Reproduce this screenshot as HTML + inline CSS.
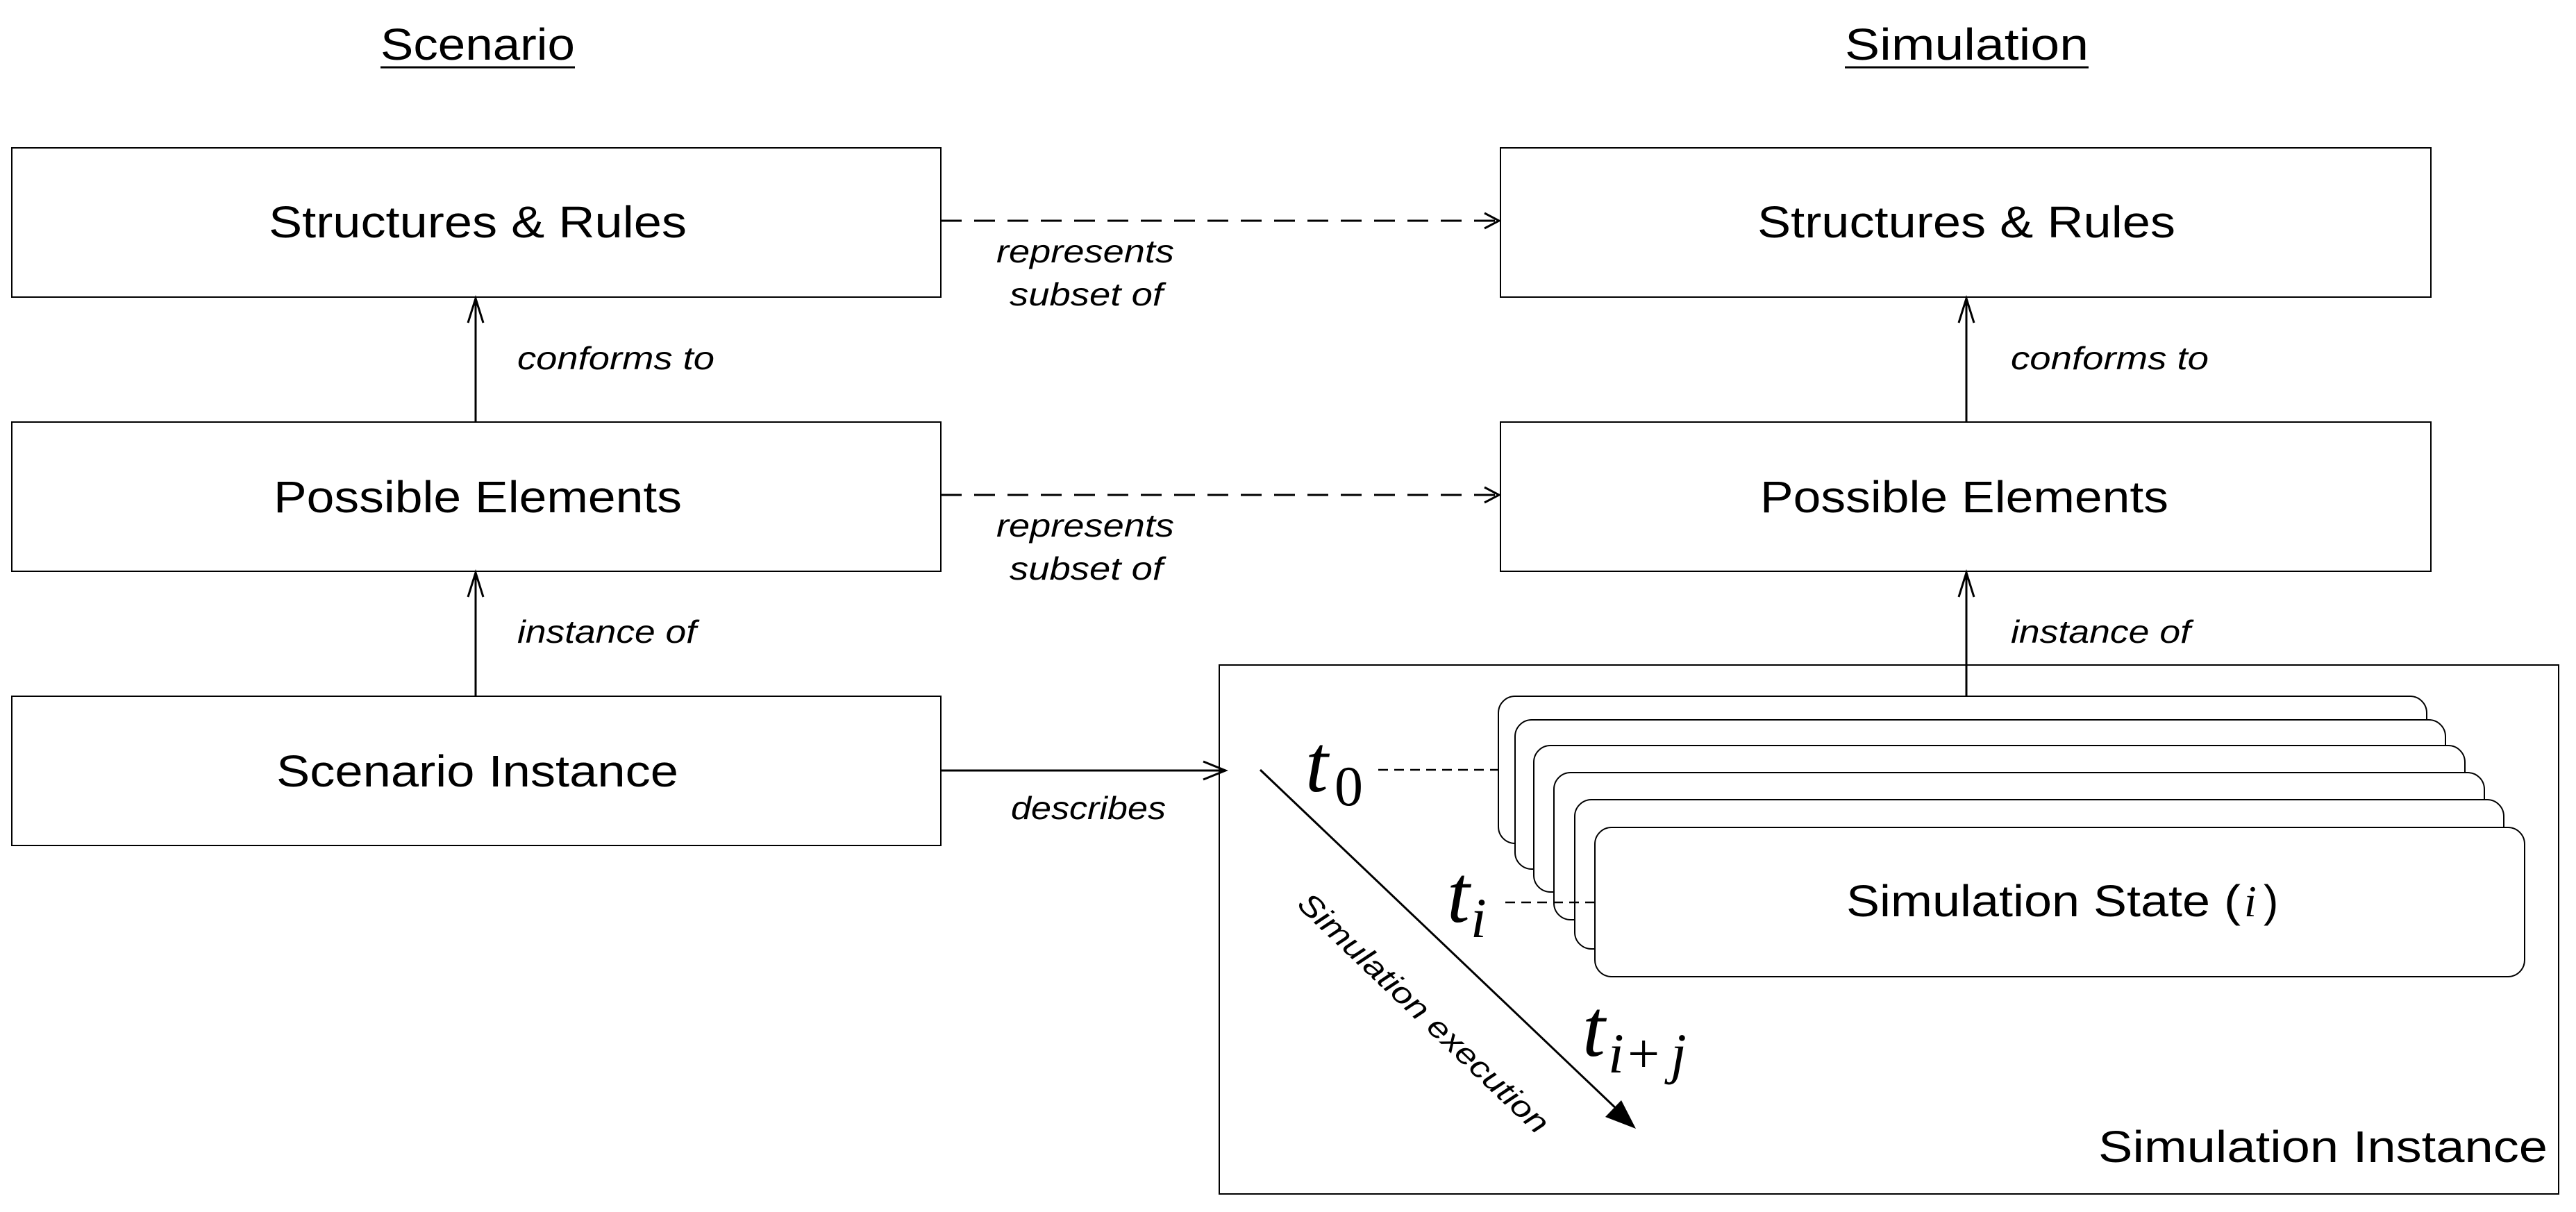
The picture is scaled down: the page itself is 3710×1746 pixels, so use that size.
<!DOCTYPE html>
<html><head><meta charset="utf-8"><style>html,body{margin:0;padding:0;background:#fff}svg{display:block}</style></head>
<body>
<svg width="3710" height="1746" viewBox="0 0 3710 1746" xmlns="http://www.w3.org/2000/svg" font-family="Liberation Sans, sans-serif">
<g fill="#fff" stroke="#000" stroke-width="2">
<rect x="17" y="213" width="1338" height="215"/>
<rect x="17" y="608" width="1338" height="215"/>
<rect x="17" y="1003" width="1338" height="215"/>
<rect x="2161" y="213" width="1340" height="215"/>
<rect x="2161" y="608" width="1340" height="215"/>
<rect x="1756" y="958" width="1929" height="762"/>
</g>
<line x1="2832" y1="823" x2="2832" y2="1003" stroke="#000" stroke-width="3"/>
<g fill="#fff" stroke="#000" stroke-width="2">
<rect x="2158" y="1003" width="1337" height="212" rx="24"/>
<rect x="2182" y="1037" width="1340" height="215" rx="24"/>
<rect x="2209" y="1074" width="1341" height="211" rx="24"/>
<rect x="2238" y="1113" width="1340" height="212" rx="24"/>
<rect x="2268" y="1152" width="1338" height="215" rx="24"/>
<rect x="2297" y="1192" width="1339" height="215" rx="24"/>
</g>
<g stroke="#000" stroke-width="3" fill="none">
<line x1="1355" y1="318" x2="2158" y2="318" stroke-dasharray="30,18"/>
<polyline points="2138,307 2159,318 2138,329"/>
<line x1="1355" y1="713" x2="2158" y2="713" stroke-dasharray="30,18"/>
<polyline points="2138,702 2159,713 2138,724"/>
<line x1="685" y1="608" x2="685" y2="430"/>
<polyline points="674,465 685,430 696,465"/>
<line x1="685" y1="1003" x2="685" y2="825"/>
<polyline points="674,860 685,825 696,860"/>
<line x1="2832" y1="608" x2="2832" y2="430"/>
<polyline points="2821,465 2832,430 2843,465"/>
<polyline points="2821,860 2832,825 2843,860"/>
<line x1="2832" y1="825" x2="2832" y2="958"/>
<line x1="1355" y1="1110" x2="1765" y2="1110"/>
<polyline points="1733,1097 1765,1110 1733,1123"/>
<line x1="1985" y1="1109" x2="2158" y2="1109" stroke-dasharray="14,9" stroke-width="2.5"/>
<line x1="2168" y1="1300" x2="2297" y2="1300" stroke-dasharray="14,9" stroke-width="2.5"/>
<line x1="1815" y1="1109" x2="2335" y2="1604"/>
</g>
<polygon points="2356,1626 2312,1609 2335,1585" fill="#000"/>
<g fill="#000" font-size="64">
<text x="387" y="342" textLength="602" lengthAdjust="spacingAndGlyphs">Structures &amp; Rules</text>
<text x="394" y="738" textLength="588" lengthAdjust="spacingAndGlyphs">Possible Elements</text>
<text x="398" y="1133" textLength="579" lengthAdjust="spacingAndGlyphs">Scenario Instance</text>
<text x="2531" y="342" textLength="602" lengthAdjust="spacingAndGlyphs">Structures &amp; Rules</text>
<text x="2535" y="738" textLength="588" lengthAdjust="spacingAndGlyphs">Possible Elements</text>
<text x="2659" y="1320" textLength="568" lengthAdjust="spacingAndGlyphs">Simulation State (</text>
<text x="3232" y="1320" font-family="Liberation Serif, serif" font-style="italic">i</text>
<text x="3260" y="1320">)</text>
<text x="3022" y="1674" textLength="647" lengthAdjust="spacingAndGlyphs">Simulation Instance</text>
<text x="548" y="86" textLength="280" lengthAdjust="spacingAndGlyphs">Scenario</text>
<text x="2657" y="86" textLength="351" lengthAdjust="spacingAndGlyphs">Simulation</text>
</g>
<line x1="548" y1="97" x2="828" y2="97" stroke="#000" stroke-width="3"/>
<line x1="2657" y1="97" x2="3008" y2="97" stroke="#000" stroke-width="3"/>
<g fill="#000" font-size="46" font-style="italic">
<text x="1435" y="378" textLength="256" lengthAdjust="spacingAndGlyphs">represents</text>
<text x="1454" y="440" textLength="221" lengthAdjust="spacingAndGlyphs">subset of</text>
<text x="1435" y="773" textLength="256" lengthAdjust="spacingAndGlyphs">represents</text>
<text x="1454" y="835" textLength="221" lengthAdjust="spacingAndGlyphs">subset of</text>
<text x="745" y="532" textLength="284" lengthAdjust="spacingAndGlyphs">conforms to</text>
<text x="2896" y="532" textLength="285" lengthAdjust="spacingAndGlyphs">conforms to</text>
<text x="745" y="926" textLength="258" lengthAdjust="spacingAndGlyphs">instance of</text>
<text x="2896" y="926" textLength="259" lengthAdjust="spacingAndGlyphs">instance of</text>
<text x="1456" y="1180" textLength="223" lengthAdjust="spacingAndGlyphs">describes</text>
</g>
<text transform="translate(2040,1470) rotate(43.6)" text-anchor="middle" font-size="44" font-style="italic" fill="#000" textLength="480" lengthAdjust="spacingAndGlyphs">Simulation execution</text>
<g fill="#000" font-family="Liberation Serif, serif">
<text x="1880" y="1140" font-size="118" font-style="italic">t</text>
<text x="1922" y="1160" font-size="82">0</text>
<text x="2084" y="1328" font-size="118" font-style="italic">t</text>
<text x="2118" y="1350" font-size="82" font-style="italic">i</text>
<text x="2279" y="1521" font-size="118" font-style="italic">t</text>
<text x="2316" y="1545" font-size="82" font-style="italic">i</text>
<text x="2344" y="1545" font-size="82">+</text>
<text x="2406" y="1545" font-size="82" font-style="italic">j</text>
</g>
</svg>
</body></html>
